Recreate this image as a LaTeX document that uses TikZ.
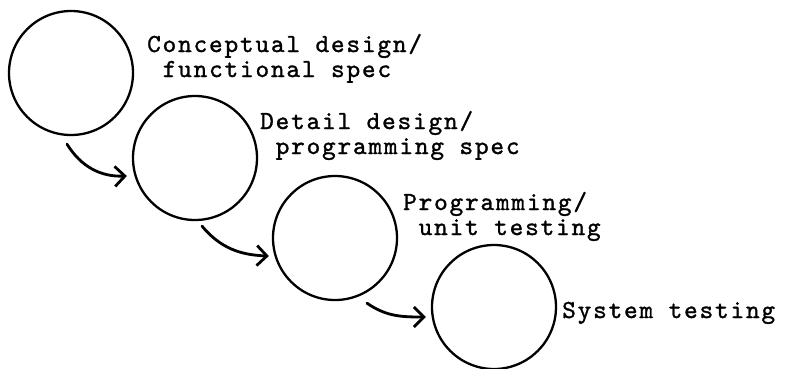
\documentclass[tikz,border=0pt]{standalone}
\usepackage{fontspec}
\usetikzlibrary{arrows.meta,calc}
\newfontfamily\typewriter{lmmono10-regular}[Extension=.otf, LetterSpace=7, FakeBold=1.2]
\begin{document}
\begin{tikzpicture}[x=1pt,y=1pt,
  stage/.style={circle, draw, line width=2.3pt, minimum size=124pt, inner sep=0pt},
  flow/.style={line width=2.8pt, line cap=round, -{Straight Barb[length=10pt,width=20pt,line join=miter]}},
  caption/.style={anchor=base west, align=left, inner sep=0pt,
    font=\typewriter\fontsize{26}{25}\selectfont}]
\useasboundingbox (0,0) rectangle (785,-368);

% the four stages of the waterfall
\node[stage] (c1) at (71,-73) {};
\node[stage] (c2) at (195,-158) {};
\node[stage] (c3) at (335,-238) {};
\node[stage] (c4) at (494,-307) {};

% stage labels (anchored on the baseline of their last line)
\node[caption] (t1) at (147,-77) {Conceptual design/\\\hspace*{15.5pt}functional spec};
\node[caption] (t2) at (260,-154) {Detail design/\\\hspace*{15.5pt}programming spec};
\node[caption] (t3) at (403,-235) {Programming/\\\hspace*{15.5pt}unit testing};
\node[caption] (t4) at (562,-318) {System testing};

% hand-offs between stages
\coordinate (a1) at ($(c1.south)+(-4,-8)$);
\coordinate (b1) at ($(c2.west)+(-5,-18)$);
\coordinate (a2) at ($(c2.south)+(7,-5)$);
\coordinate (b2) at ($(c3.west)+(-3,-18)$);
\coordinate (a3) at ($(c3.south)+(32,-2)$);
\coordinate (b3) at ($(c4.west)+(-5,-10)$);
\draw[flow] (a1) to[out=-58, in=182] (b1);
\draw[flow] (a2) to[out=-50, in=178] (b2);
\draw[flow] (a3) to[out=-35, in=180] (b3);
\end{tikzpicture}
\end{document}
